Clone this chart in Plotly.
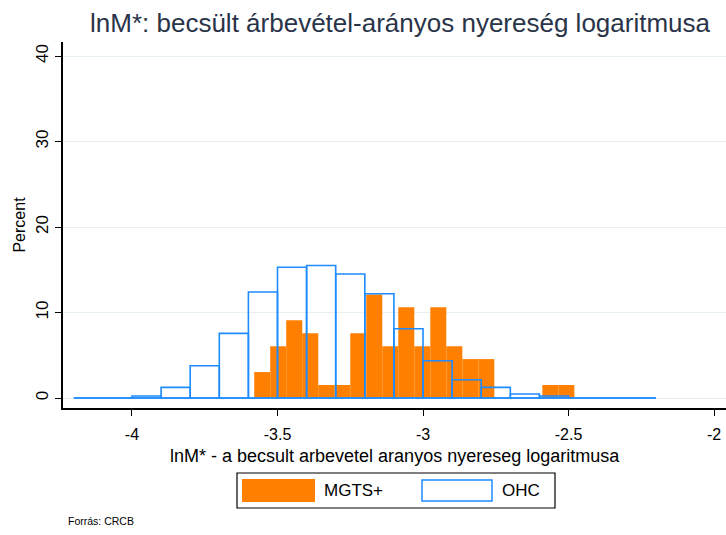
import plotly.graph_objects as go

# ---- data ----
ohc_start = -4.2
ohc_width = 0.1
ohc_pct = [0, 0, 0.23, 1.24, 3.78, 7.56, 12.4, 15.3, 15.5, 14.5, 12.2, 8.1,
           4.36, 2.14, 1.24, 0.47, 0.23, 0, 0, 0]

mgts_start = -3.58
mgts_width = 0.055
mgts_pct = [3.03, 6.06, 9.09, 7.58, 1.52, 1.52, 7.58, 12.12, 6.06, 10.61,
            6.06, 10.61, 6.06, 4.55, 4.55, 0, 0, 0, 1.52, 1.52]

x_ticks = [-4, -3.5, -3, -2.5, -2]
x_tick_labels = ["-4", "-3.5", "-3", "-2.5", "-2"]
y_ticks = [0, 10, 20, 30, 40]

series_names = ["MGTS+", "OHC"]
title = "lnM*: becsült árbevétel-arányos nyereség logaritmusa"
x_title = "lnM* - a becsult arbevetel aranyos nyereseg logaritmusa"
y_title = "Percent"
source = "Forrás: CRCB"

FONT = "Liberation Sans Narrow, Arial Narrow, Liberation Sans, Arial, sans-serif"
ORANGE = "#FF7F00"
BLUE = "#1E8CFF"

# plot-area geometry in pixels (for paper-coordinate conversion of decorations)
L, R, T, B = 63, 726, 42, 408
W, H = R - L, B - T


def px(x):
    return (x - L) / W


def py(y):
    return (B - y) / H


mgts_x = [mgts_start + mgts_width * (i + 0.5) for i in range(len(mgts_pct))]
ohc_x = [ohc_start + ohc_width * (i + 0.5) for i in range(len(ohc_pct))]
ohc_end = ohc_start + ohc_width * len(ohc_pct)

fig = go.Figure()
fig.add_trace(go.Bar(
    x=mgts_x, y=mgts_pct, width=mgts_width, name=series_names[0],
    marker=dict(color=ORANGE, line=dict(width=0)), showlegend=False,
))
fig.add_trace(go.Scatter(
    x=[ohc_start, ohc_end], y=[0, 0], mode="lines",
    line=dict(color=BLUE, width=1.5), showlegend=False, hoverinfo="skip",
))
fig.add_trace(go.Bar(
    x=ohc_x, y=ohc_pct, width=ohc_width, name=series_names[1],
    marker=dict(color="rgba(255,255,255,0)", line=dict(color=BLUE, width=1.6)),
    showlegend=False,
))

shapes = [
    # legend frame
    dict(type="rect", xref="paper", yref="paper", x0=px(237), x1=px(555),
         y0=py(473), y1=py(508), line=dict(color="#000000", width=1.2),
         fillcolor="white", layer="above"),
    # legend keys
    dict(type="rect", xref="paper", yref="paper", x0=px(242), x1=px(315),
         y0=py(479), y1=py(502), line=dict(width=0), fillcolor=ORANGE, layer="above"),
    dict(type="rect", xref="paper", yref="paper", x0=px(422), x1=px(492),
         y0=py(480), y1=py(501), line=dict(color=BLUE, width=1.5),
         fillcolor="white", layer="above"),
]

fig.update_layout(
    width=726, height=535,
    barmode="overlay",
    paper_bgcolor="white", plot_bgcolor="white",
    margin=dict(l=L, r=726 - R, t=T, b=535 - B),
    font=dict(family=FONT, color="#000000", size=15),
    title=dict(text=title, x=0.551, xanchor="center", y=0.957, yanchor="middle",
               font=dict(family=FONT, size=26, color="#2a3448")),
    showlegend=False,
    xaxis=dict(range=[-4.237, -1.959], tickvals=x_ticks, ticktext=x_tick_labels,
               showgrid=False, zeroline=False, showline=True, linecolor="#000000",
               linewidth=1.5, ticks="outside", ticklen=6, tickcolor="#000000",
               tickfont=dict(size=16), ticklabelstandoff=5),
    yaxis=dict(range=[-1.17, 41.64], tickvals=y_ticks, showgrid=True,
               gridcolor="#e6f0f2", gridwidth=1, zeroline=False, showline=True,
               linecolor="#000000", linewidth=1.5, ticks="outside", ticklen=6,
               tickcolor="#000000", tickangle=-90, tickfont=dict(size=17),
               title=dict(text=y_title, font=dict(size=16), standoff=4)),
    shapes=shapes,
    annotations=[
        dict(text=x_title, xref="paper", yref="paper", x=0.5, y=py(456),
             xanchor="center", yanchor="middle", showarrow=False,
             font=dict(family=FONT, size=18, color="#000000")),
        dict(text=series_names[0], xref="paper", yref="paper", x=px(322), y=py(491),
             xanchor="left", yanchor="middle", showarrow=False,
             font=dict(family=FONT, size=17, color="#000000")),
        dict(text=series_names[1], xref="paper", yref="paper", x=px(500), y=py(491),
             xanchor="left", yanchor="middle", showarrow=False,
             font=dict(family=FONT, size=17, color="#000000")),
        dict(text=source, xref="paper", yref="paper", x=px(66),
             y=py(521), xanchor="left", yanchor="middle",
             showarrow=False, font=dict(family=FONT, size=10.5, color="#000000")),
    ],
)

fig.write_html("out.html")
